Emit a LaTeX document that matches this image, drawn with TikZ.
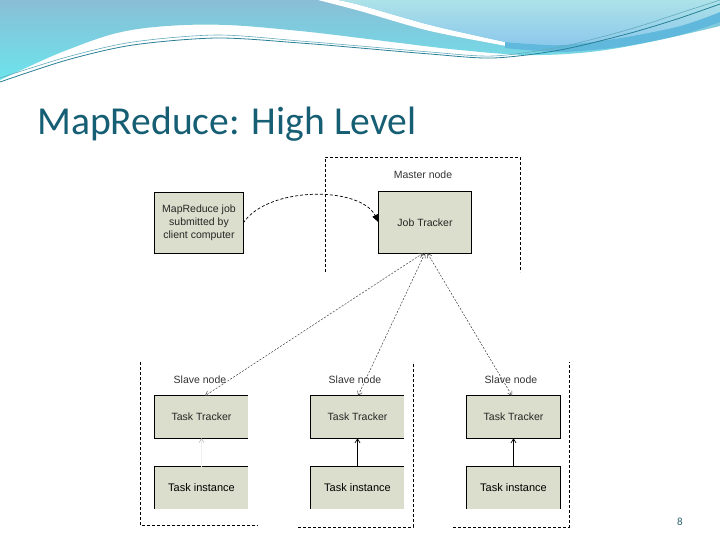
\documentclass[tikz,border=0pt]{standalone}
\usepackage{fontspec}
\setmainfont{Liberation Sans}
\newfontfamily\titlefont{Carlito}
\usetikzlibrary{arrows.meta}
\definecolor{boxfill}{RGB}{219,222,204}
\definecolor{titlec}{RGB}{22,94,115}
\definecolor{pagec}{RGB}{50,100,115}
\definecolor{steelc}{RGB}{137,190,214}
\definecolor{cyanc}{RGB}{108,228,236}
\definecolor{ltca}{RGB}{172,226,232}
\definecolor{ltcb}{RGB}{140,200,236}
\definecolor{midbc}{RGB}{96,184,220}
\definecolor{tealA}{RGB}{40,128,150}
\definecolor{tealB}{RGB}{100,172,188}
\begin{document}
\begin{tikzpicture}[x=1pt,y=-1pt,
  lbl/.style={font=\fontsize{10.5}{12}\selectfont, text=black!80, inner sep=1pt},
  boxn/.style={fill=boxfill, inner sep=0pt, font=\fontsize{10.5}{13}\selectfont, text=black!85, align=center},
  insn/.style={boxn, font=\fontsize{11}{13}\selectfont, text=black},
  dsh/.style={dash pattern=on 3pt off 2pt, line width=0.8pt, black},
  edge/.style={line width=0.7pt, black},
  conn/.style={dash pattern=on 2pt off 1.5pt, line width=0.5pt, black!75,
    {Straight Barb[length=4pt,width=5pt]}-{Straight Barb[length=4pt,width=5pt]}},
  upar/.style={line width=0.7pt, black, -{Straight Barb[length=4pt,width=5pt]}}
]
\useasboundingbox (0,0) rectangle (720,540);
\fill[white] (0,0) rectangle (720,540);

% ---- header waves ----
\shade[top color=steelc, bottom color=cyanc] (0,0) -- (720,0) -- plot[smooth, tension=0.6] coordinates {(720,26) (650,42) (590,52) (527,55) (460,50) (400,43) (360,38) (300,31) (227,25) (167,26) (117,33) (67,50) (30,66) (0,80)} -- cycle;
\fill[white] plot[smooth] coordinates {(318,0) (360,11) (430,31) (512,47)} -- plot[smooth] coordinates {(505,42) (430,25) (360,5) (338,0)} -- cycle;
\fill[midbc] plot[smooth] coordinates {(505,42) (560,45) (620,38) (680,26) (720,12)} -- plot[smooth] coordinates {(720,22) (680,35) (620,47) (560,52) (505,48)} -- cycle;
\shade[top color=ltca, bottom color=ltcb] plot[smooth] coordinates {(338,0) (360,5) (430,25) (505,42)} -- plot[smooth] coordinates {(505,42) (560,45) (620,38) (680,26) (720,12)} -- (720,0) -- cycle;
\draw[tealB, line width=0.6pt] plot[smooth] coordinates {(0,78) (67,57) (133,42) (217,35) (300,41) (360,46) (430,52) (493,56) (560,47) (627,30) (677,14) (720,0)};
\draw[tealA, line width=0.8pt] plot[smooth] coordinates {(0,82) (67,60) (133,45) (217,38) (300,43) (360,48) (430,54) (493,58) (560,50) (627,34) (677,19) (720,4)};

% ---- title ----
\node[anchor=base west, font=\titlefont\fontsize{39.6}{46}\selectfont, text=titlec, inner sep=0pt] (title) at (37,135) {MapReduce: High Level};

% ---- frames ----
\draw[dsh] (325,272) -- (325,157) -- (520,157) -- (520,272);
\draw[dsh] (140,362) -- (140,525) -- (258,525);
\draw[dsh] (298,527) -- (413,527) -- (413,362);
\draw[dsh] (453,527) -- (569,527) -- (569,362);

% ---- labels ----
\node[lbl] (mn) at (423,175) {Master node};
\node[lbl] (sn1) at (200,380) {Slave node};
\node[lbl] (sn2) at (355,380) {Slave node};
\node[lbl] (sn3) at (511,380) {Slave node};

% ---- boxes ----
\node[boxn, minimum width=88pt, minimum height=60pt] (client) at (199,223) {MapReduce job\\submitted by\\client computer};
\draw[edge] (client.north west) rectangle (client.south east);
\node[boxn, minimum width=92pt, minimum height=61pt] (jt) at (425,222.5) {Job Tracker};
\draw[edge] (jt.north west) rectangle (jt.south east);

\node[boxn, minimum width=93pt, minimum height=42pt] (tt1) at (201.5,417) {Task Tracker};
\draw[edge] (tt1.north east) -- (tt1.north west) -- (tt1.south west) -- (tt1.south east);
\node[insn, minimum width=93pt, minimum height=42pt] (ti1) at (201.5,488) {Task instance};
\draw[edge] (ti1.north east) -- (ti1.north west) -- (ti1.south west);

\node[boxn, minimum width=93pt, minimum height=42pt] (tt2) at (357.5,417) {Task Tracker};
\draw[edge] (tt2.north east) -- (tt2.north west) -- (tt2.south west) -- (tt2.south east);
\node[insn, minimum width=93pt, minimum height=42pt] (ti2) at (357.5,488) {Task instance};
\draw[edge] (ti2.north east) -- (ti2.north west) -- (ti2.south west);

\node[boxn, minimum width=93pt, minimum height=42pt] (tt3) at (513.5,417) {Task Tracker};
\draw[edge] (tt3.north west) rectangle (tt3.south east);
\node[insn, minimum width=93pt, minimum height=42pt] (ti3) at (513.5,488) {Task instance};
\draw[edge] (ti3.south west) -- (ti3.north west) -- (ti3.north east) -- (ti3.south east);

% ---- connectors ----
\draw[dash pattern=on 3pt off 2pt, line width=0.7pt, black, -{Triangle[length=8pt,width=6pt]}] (client.east) .. controls (268,186) and (360,186) .. (jt.west);
\draw[conn] ([xshift=-2pt]jt.south) -- ([xshift=3.5pt]tt1.north);
\draw[conn] ([xshift=0pt]jt.south) -- ([xshift=0.5pt]tt2.north);
\draw[conn] ([xshift=2.5pt]jt.south) -- ([xshift=-1.5pt]tt3.north);
\draw[line width=0.5pt, draw=gray!12, -{Straight Barb[length=4pt,width=5pt,color=gray!60]}] (ti1.north) -- (tt1.south);
\draw[upar] (ti2.north) -- (tt2.south);
\draw[upar] (ti3.north) -- (tt3.south);

% ---- page number ----
\node[font=\titlefont\fontsize{11}{12}\selectfont, text=pagec] (pg) at (680,522) {8};
\end{tikzpicture}
\end{document}
